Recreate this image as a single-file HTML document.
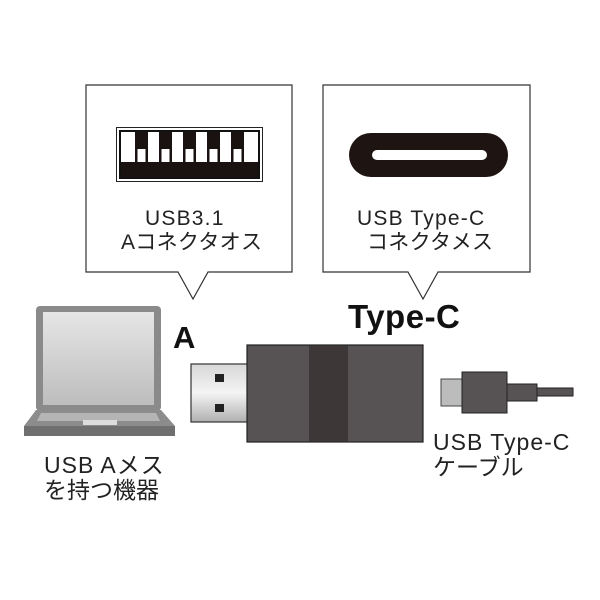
<!DOCTYPE html><html><head><meta charset="utf-8"><style>
body{margin:0;background:#fff;width:600px;height:600px;overflow:hidden;position:relative;font-family:"Liberation Sans","Noto Sans CJK JP",sans-serif;}
.t{position:absolute;font-size:21px;color:#222;line-height:24px;white-space:nowrap;letter-spacing:1.2px}
.b{font-size:23px;line-height:25px;letter-spacing:1px}
</style></head><body>
<svg width="600" height="600" style="position:absolute;left:0;top:0">
<defs><linearGradient id="sc" x1="0" y1="0" x2="0" y2="1"><stop offset="0" stop-color="#e6e6e6"/><stop offset="1" stop-color="#bdbdbd"/></linearGradient>
<linearGradient id="mt" x1="0" y1="0" x2="0" y2="1"><stop offset="0" stop-color="#d8d8d8"/><stop offset="0.5" stop-color="#f4f4f4"/><stop offset="1" stop-color="#b0b0b0"/></linearGradient></defs>
<g fill="#fff" stroke="#333" stroke-width="1.2">
<path d="M86 85H292V272H208L193 299L178 272H86Z"/>
<path d="M323 85H530V272H438L423 299L408 272H323Z"/>
</g>
<rect x="116.5" y="127.5" width="146" height="54" fill="#fff" stroke="#222" stroke-width="1"/>
<rect x="120" y="131" width="139" height="47" fill="#fff" stroke="#111" stroke-width="2"/>
<rect x="121" y="162" width="137" height="15" fill="#1a1210"/>
<g fill="#1a1210">
<rect x="135" y="132" width="13" height="30"/><rect x="159" y="132" width="13" height="30"/><rect x="183" y="132" width="13" height="30"/><rect x="207" y="132" width="13" height="30"/><rect x="231" y="132" width="13" height="30"/></g>
<g fill="#fff"><rect x="137.5" y="149" width="8" height="13"/><rect x="161.5" y="149" width="8" height="13"/><rect x="185.5" y="149" width="8" height="13"/><rect x="209.5" y="149" width="8" height="13"/><rect x="233.5" y="149" width="8" height="13"/></g>
<rect x="349" y="133" width="159" height="44" rx="22" fill="#1e1412"/>
<rect x="372" y="150" width="115" height="10" rx="5" fill="#fff"/>
<!-- laptop -->
<rect x="36" y="306" width="125" height="105" rx="4" fill="#8a8a8a"/>
<rect x="43" y="312" width="111" height="93" fill="url(#sc)"/>
<path d="M36 410H161L175 426V436H24V426Z" fill="#8c8c8c"/>
<rect x="24" y="426" width="151" height="10" fill="#6f6f6f"/>
<path d="M41 413H156L160 421H37Z" fill="#b5b5b5"/>
<rect x="83" y="420" width="34" height="5" fill="#ddd"/>
<!-- adapter -->
<rect x="191" y="364" width="57" height="58" fill="url(#mt)" stroke="#333" stroke-width="1.2"/>
<rect x="215" y="374" width="9" height="8" fill="#222"/><rect x="215" y="404" width="9" height="8" fill="#222"/>
<rect x="247" y="345" width="176" height="97" fill="#575253" stroke="#222" stroke-width="1.2"/>
<rect x="309" y="345.6" width="39" height="95.8" fill="#3d3737"/>
<!-- cable -->
<rect x="441" y="379" width="22" height="27" fill="#bcbcbc" stroke="#444"/>
<rect x="462" y="372" width="45" height="41" fill="#575253" stroke="#222"/>
<rect x="507" y="384" width="30" height="17" fill="#575253" stroke="#222"/>
<rect x="537" y="388" width="36" height="8" fill="#575253" stroke="#222"/>
</svg>
<div class="t" style="left:145px;top:207px;">USB3.1</div>
<div class="t" style="left:121px;top:231px;letter-spacing:0.3px">Aコネクタオス</div>
<div class="t" style="left:357px;top:207px;">USB Type-C</div>
<div class="t" style="left:367px;top:231px;letter-spacing:0.3px">コネクタメス</div>
<div class="t" style="left:173px;top:321px;font-size:31px;line-height:34px;font-weight:bold;color:#111;letter-spacing:0">A</div>
<div class="t" style="left:348px;top:298px;font-size:33px;line-height:38px;font-weight:bold;color:#111;letter-spacing:0.5px">Type-C</div>
<div class="t b" style="left:433px;top:430px;">USB Type-C</div>
<div class="t b" style="left:433px;top:455px;letter-spacing:0">ケーブル</div>
<div class="t b" style="left:44px;top:453px;">USB Aメス</div>
<div class="t b" style="left:44px;top:478px;letter-spacing:0">を持つ機器</div>
</body></html>
